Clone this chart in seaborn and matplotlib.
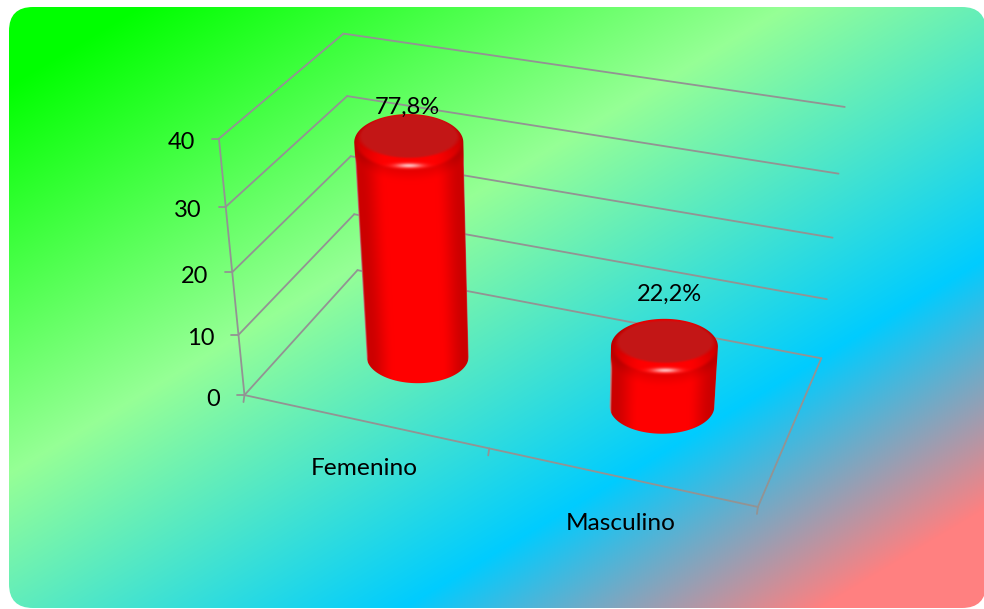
import numpy as np
import pandas as pd
import matplotlib
matplotlib.use("Agg")
import matplotlib.pyplot as plt
from matplotlib.patches import FancyBboxPatch, PathPatch
from matplotlib.path import Path
import seaborn as sns

# Survey counts per gender
categories = ["Femenino", "Masculino"]
counts = [35, 10]
value_ticks = [0, 10, 20, 30, 40]

W, H = 984, 609
sns.set_theme(style="white")
plt.rcParams["font.family"] = ["Lato", "DejaVu Sans"]

fig = plt.figure(figsize=(W / 100, H / 100), dpi=100, facecolor="white")
ax = fig.add_axes([0, 0, 1, 1])


def set_limits():
    ax.set_xlim(0, W)
    ax.set_ylim(H, 0)
    ax.axis("off")


# Perspective camera: box space is (category 0..2, depth 0..1, value 0..40)
box_to_screen = [
    ((0, 0, 0), (244, 394)), ((0, 0, 10), (238, 334)), ((0, 0, 20), (232, 272)),
    ((0, 0, 30), (226, 207)), ((0, 0, 40), (220, 139)),
    ((0, 1, 0), (358, 271)), ((0, 1, 10), (355, 215)), ((0, 1, 20), (351, 156)),
    ((0, 1, 30), (346, 96)), ((0, 1, 40), (343, 33)),
    ((2, 1, 0), (821, 357)), ((2, 1, 10), (827, 299)), ((2, 1, 20), (833, 238)),
    ((2, 1, 30), (838, 174)), ((2, 1, 40), (845, 107)),
    ((2, 0, 0), (758, 507)), ((1, 0, 0), (489, 450)),
]


def fit_camera(pairs):
    rows, rhs = [], []
    for (x, y, z), (u, v) in pairs:
        rows.append([x, y, z, 1, 0, 0, 0, 0, -u * x, -u * y, -u * z])
        rows.append([0, 0, 0, 0, x, y, z, 1, -v * x, -v * y, -v * z])
        rhs += [u, v]
    sol = np.linalg.lstsq(np.array(rows, float), np.array(rhs, float), rcond=None)[0]
    return np.append(sol, 1.0).reshape(3, 4)


camera = fit_camera(box_to_screen)


def project(x, y, z):
    p = camera @ np.array([x, y, z, 1.0])
    return p[0] / p[2], p[1] / p[2]


# Panel background: rounded card with a four-stop diagonal gradient
stops_t = [90, 480, 850, 1100]
stops_rgb = np.array([[0, 255, 0], [150, 255, 150], [0, 204, 255], [255, 128, 128]]) / 255
gx, gy = np.meshgrid(np.arange(W) + .5, np.arange(H) + .5)
t = 0.6 * gx + gy
bg = np.dstack([np.interp(t, stops_t, stops_rgb[:, i]) for i in range(3)])
card = FancyBboxPatch((9 + 24, 7 + 24), 977 - 48, 601 - 48, boxstyle="round,pad=24,rounding_size=24",
                      transform=ax.transData, fc="none", ec="none")
ax.add_patch(card)
img = ax.imshow(bg, extent=(0, W, H, 0), aspect="auto", interpolation="bilinear", zorder=0)
img.set_clip_path(card)

# Wall and floor rules
segments = []


def add_segment(a, b):
    n = len(segments) // 2
    for pt in (a, b):
        segments.append({"px": pt[0], "py": pt[1], "seg": n})


for v in value_ticks:
    add_segment(project(0, 0, v), project(0, 1, v))
    add_segment(project(0, 1, v), project(2, 1, v))
    tx, ty = project(0, 0, v)
    add_segment((tx - 7, ty), (tx, ty))
add_segment(project(0, 0, value_ticks[0]), project(0, 0, value_ticks[-1]))
add_segment(project(0, 0, 0), project(2, 0, 0))
add_segment(project(2, 0, 0), project(2, 1, 0))
for c in range(3):
    tx, ty = project(c, 0, 0)
    add_segment((tx, ty), (tx - 1, ty + 7))

rules = pd.DataFrame(segments)
sns.lineplot(data=rules, x="px", y="py", units="seg", estimator=None, sort=False,
             color="#939393", lw=1.3, ax=ax, legend=False, zorder=1)


def smooth(a, b, x):
    s = np.clip((x - a) / (b - a), 0, 1)
    return s * s * (3 - 2 * s)


def draw_cylinder(cat_pos, value, radius):
    depth = 0.47
    x_top0, y_top = project(cat_pos, depth, value)
    y_top += 0.08 * value
    x_bot0, y_bot = project(cat_pos, depth, 0)
    rx_top = abs(project(cat_pos + radius, depth, value)[0] - project(cat_pos - radius, depth, value)[0]) / 2
    rx_bot = abs(project(cat_pos + radius, depth, 0)[0] - project(cat_pos - radius, depth, 0)[0]) / 2
    ry_top, ry_bot = rx_top * 0.52, rx_bot * 0.52

    x0, x1 = min(x_top0 - rx_top, x_bot0 - rx_bot) - 3, max(x_top0 + rx_top, x_bot0 + rx_bot) + 3
    y0, y1 = y_top - ry_top - 3, y_bot + ry_bot + 3
    X, Y = np.meshgrid(np.arange(x0, x1, 0.5), np.arange(y0, y1, 0.5))

    s = np.clip((Y - y_top) / (y_bot - y_top), 0, 1)
    cx = x_top0 + (x_bot0 - x_top0) * s
    rx = rx_top + (rx_bot - rx_top) * s
    u = np.clip((X - cx) / rx, -1, 1)

    # Side wall: pure red in the middle, falling off toward the silhouette
    side = 1 - 0.2 * smooth(0.45, 0.92, np.abs(u))
    front = y_top + ry_top * np.sqrt(1 - u ** 2)
    below = Y - front
    band = 1 - 0.1 * (1 - smooth(-2, 14, below))
    red = side * band
    rgb = np.dstack([red, np.zeros_like(red), np.zeros_like(red)])
    edge = smooth(0.97, 1.0, np.abs(u)) * smooth(8, 20, below)
    for i, c in enumerate((0.72, 0.55, 0.55)):
        rgb[..., i] = rgb[..., i] * (1 - edge) + c * edge

    # Bevelled lid: rim melts into the wall, darker flat disc with a soft edge
    e = np.hypot((X - x_top0) / rx_top, (Y - y_top) / ry_top)
    lid_mix = 1 - smooth(0.9, 1.03, e)
    lu = np.abs(X - x_top0) / rx_top
    rim = (1 - 0.14 * smooth(0.4, 0.95, lu)) * (0.92 + 0.08 * smooth(y_top - ry_top * 0.3, y_top + ry_top * 0.6, Y))
    ry_in = ry_top * 0.8
    e_in = np.hypot((X - x_top0) / (rx_top * 0.95), (Y - (y_top - ry_top + ry_in)) / ry_in)
    disc_mix = 1 - smooth(0.88, 1.03, e_in)
    disc = 0.765
    lid_rgb = np.dstack([rim * (1 - disc_mix) + disc * disc_mix,
                         0.09 * disc_mix, 0.09 * disc_mix])
    for i in range(3):
        rgb[..., i] = rgb[..., i] * (1 - lid_mix) + lid_rgb[..., i] * lid_mix
    spot = np.exp(-((X - x_top0) / (rx_top * 0.24)) ** 2 - ((Y - (y_top + ry_top - 4.5)) / 2.4) ** 2) * 0.72
    for i in range(3):
        rgb[..., i] = rgb[..., i] * (1 - spot) + spot

    # Silhouette used to clip the shaded image
    a = np.linspace(np.pi, 2 * np.pi, 60)
    upper = np.c_[x_top0 + rx_top * np.cos(a), y_top + ry_top * np.sin(a)]
    b = np.linspace(0, np.pi, 60)
    lower = np.c_[x_bot0 + rx_bot * np.cos(b), y_bot + ry_bot * np.sin(b)]
    outline = np.vstack([upper, lower, upper[:1]])
    patch = PathPatch(Path(outline, closed=True), fc="none", ec="none", transform=ax.transData)
    ax.add_patch(patch)
    im = ax.imshow(rgb, extent=(x0, x1, y1, y0), aspect="auto", interpolation="bilinear", zorder=3)
    im.set_clip_path(patch)


total = sum(counts)
bar_radius = [0.218, 0.205]
for i, v in enumerate(counts):
    draw_cylinder(i + 0.511, v, bar_radius[i])

set_limits()

# Value axis labels
for v in value_ticks:
    tx, ty = project(0, 0, v)
    ax.text(tx - 24, ty + 4, str(v), ha="right", va="center", fontsize=17, color="black", zorder=5)

# Category labels under the front edge
for i, name in enumerate(categories):
    fx, fy = project(i + 0.5, 0, 0)
    ax.text(fx, fy + 47, name, ha="center", va="center", fontsize=17.6, color="black", zorder=5)

# Share of total above each cylinder
for i, v in enumerate(counts):
    tx, ty = project(i + 0.5, 0.5, v)
    label = f"{v / total * 100:.1f}%".replace(".", ",")
    ax.text(tx - 2 + 7 * i, ty - 28 - 19 * i, label, ha="center", va="center", fontsize=17, color="black", zorder=5)

fig.savefig("out.png", dpi=100, facecolor="white")
